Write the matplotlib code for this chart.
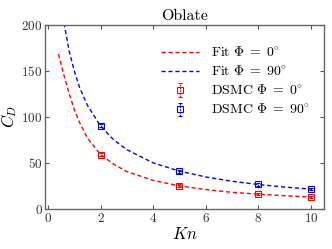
import matplotlib
matplotlib.use("Agg")
import matplotlib.pyplot as plt

plt.rcParams['font.family'] = ['cmr10', 'DejaVu Serif']
plt.rcParams['mathtext.fontset'] = 'cm'
plt.rcParams['axes.formatter.use_mathtext'] = True

# Fit curves
fit0_kn = [0.4, 0.6, 0.8, 1.0, 1.2, 1.5, 2.0, 2.5, 3.0, 4.0, 5.0, 6.0, 7.0, 8.0, 9.0, 10.0]
fit0_cd = [168, 146, 126, 108, 94, 77, 59, 48.5, 40.5, 31, 25, 21, 18, 16, 14.3, 12.8]
fit90_kn = [0.5, 0.65, 0.8, 1.0, 1.2, 1.5, 2.0, 2.5, 3.0, 4.0, 5.0, 6.0, 7.0, 8.0, 9.0, 10.0]
fit90_cd = [224, 196, 172, 150, 132, 112.5, 90, 75, 64.3, 50, 41, 34.7, 30, 26.5, 23.7, 21.5]

# DSMC data
dsmc_kn = [2, 5, 8, 10]
dsmc0_cd = [59, 25, 16, 13]
dsmc90_cd = [90.5, 41, 26.5, 21.5]
dsmc0_err = [2, 1.5, 1.2, 1.0]
dsmc90_err = [2, 1.5, 1.2, 1.0]

fig = plt.figure(figsize=(3.32, 2.49), dpi=100)
ax = fig.add_axes([0.1365, 0.161, 0.976 - 0.1365, 0.901 - 0.161])

ax.plot(fit0_kn, fit0_cd, '--', color='red', lw=1.0, dashes=(3, 2), label=r'Fit $\Phi\;=\;0^{\circ}$')
ax.plot(fit90_kn, fit90_cd, '--', color='blue', lw=1.0, dashes=(3, 2), label=r'Fit $\Phi\;=\;90^{\circ}$')
e0 = ax.errorbar(dsmc_kn, dsmc0_cd, yerr=dsmc0_err, fmt='s', color='red', mfc='none',
                 ms=5, mew=0.8, elinewidth=0.8, capsize=1.5, label=r'DSMC $\Phi\;=\;0^{\circ}$')
e90 = ax.errorbar(dsmc_kn, dsmc90_cd, yerr=dsmc90_err, fmt='s', color='blue', mfc='none',
                  ms=5, mew=0.8, elinewidth=0.8, capsize=1.5, label=r'DSMC $\Phi\;=\;90^{\circ}$')
for e in (e0, e90):
    for lc in e[2]:
        lc.set_linestyle((0, (1.5, 1)))

ax.set_xlim(-0.1, 10.5)
ax.set_ylim(0, 200)
ax.set_xticks([0, 2, 4, 6, 8, 10])
ax.set_yticks([0, 50, 100, 150, 200])
ax.tick_params(direction='in', top=True, right=True, length=3, width=0.8,
               labelsize=9.5, colors='#555555', labelcolor='#333333', pad=2)
for s in ax.spines.values():
    s.set_color('#666666')
    s.set_linewidth(1.0)

ax.set_title('Oblate', fontsize=11.5, pad=3)
ax.set_xlabel(r'$Kn$', fontsize=12, labelpad=1)
ax.set_ylabel(r'$C_D$', fontsize=12, labelpad=2)

ax.legend(loc='upper right', bbox_to_anchor=(0.98, 0.93), frameon=False, fontsize=10,
          handlelength=2.7, labelspacing=0.35, borderaxespad=0.2, handletextpad=0.9)

fig.savefig('out.png', dpi=100)
